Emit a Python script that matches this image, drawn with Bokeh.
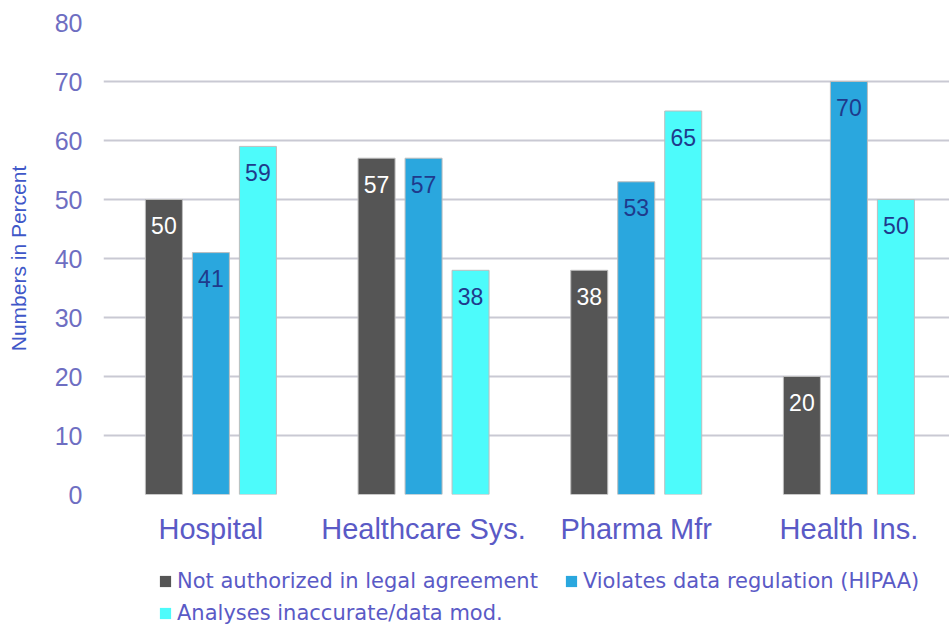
from bokeh.plotting import figure
from bokeh.layouts import column
from bokeh.models import ColumnDataSource, Range1d, Legend, LegendItem, FixedTicker
from bokeh.embed import file_html
from bokeh.resources import INLINE
from bokeh.core.properties import value

categories = ["Hospital", "Healthcare Sys.", "Pharma Mfr", "Health Ins."]
series_names = ["Not authorized in legal agreement", "Violates data regulation (HIPAA)", "Analyses inaccurate/data mod."]
not_authorized = [50, 57, 38, 20]
violates_hipaa = [41, 57, 53, 70]
inaccurate = [59, 38, 65, 50]
y_ticks = [0, 10, 20, 30, 40, 50, 60, 70, 80]

series = [not_authorized, violates_hipaa, inaccurate]
colors = ["#555555", "#2aa7de", "#4dfbfb"]
label_colors = ["#ffffff", "#1f3a8c", "#1f3a8c"]
offsets = [-0.221, 0.0, 0.221]
bar_w = 0.174

p = figure(width=949, height=550, output_backend="svg", toolbar_location=None,
           x_range=Range1d(-0.505, 3.473), y_range=Range1d(0, 80),
           min_border_left=103, min_border_right=0, min_border_top=22, min_border_bottom=56)
p.outline_line_color = None
p.background_fill_color = "white"
p.border_fill_color = "white"

# legend strip below the chart (its ranges keep the proxy bars far out of view)
lg = figure(width=949, height=80, output_backend="svg", toolbar_location=None,
            x_range=Range1d(100, 101), y_range=Range1d(1000, 1100),
            x_axis_type=None, y_axis_type=None,
            min_border_left=0, min_border_right=0, min_border_top=0, min_border_bottom=0)
lg.outline_line_color = None
lg.background_fill_color = "white"
lg.border_fill_color = "white"
lg.xgrid.grid_line_color = None
lg.ygrid.grid_line_color = None

xs = list(range(len(categories)))
proxies = []
for vals, col, lc, off in zip(series, colors, label_colors, offsets):
    src = ColumnDataSource(dict(x=[i + off for i in xs], top=vals, lab=[str(v) for v in vals]))
    p.vbar(x="x", top="top", bottom=0, width=bar_w, source=src,
           fill_color=col, line_color="#bdbdbd", line_width=1)
    p.text(x="x", y="top", text="lab", source=src, text_align="center", text_baseline="middle",
           y_offset=26, text_color=lc, text_font_size="23px", text_font=value("Liberation Sans"))
    proxies.append(lg.vbar(x="x", top="top", bottom=0, width=bar_w, source=src,
                           fill_color=col, line_color=None))

p.xgrid.grid_line_color = None
p.ygrid.grid_line_color = "#c9c9d3"
p.ygrid.grid_line_width = 2
p.ygrid.ticker = FixedTicker(ticks=y_ticks)

p.yaxis.ticker = FixedTicker(ticks=y_ticks)
p.yaxis.axis_line_color = None
p.yaxis.major_tick_line_color = None
p.yaxis.minor_tick_line_color = None
p.yaxis.major_label_text_font_size = "25px"
p.yaxis.major_label_text_color = "#6e6ec2"
p.yaxis.major_label_text_font = "Liberation Sans"
p.yaxis.major_label_standoff = 15
p.yaxis.axis_label = "Numbers in Percent"
p.yaxis.axis_label_text_font_size = "21px"
p.yaxis.axis_label_text_font_style = "normal"
p.yaxis.axis_label_text_color = "#3f57c8"
p.yaxis.axis_label_text_font = "Liberation Sans"
p.yaxis.axis_label_standoff = 22

p.xaxis.ticker = FixedTicker(ticks=xs)
p.xaxis.major_label_overrides = {i: c for i, c in enumerate(categories)}
p.xaxis.axis_line_color = None
p.xaxis.major_tick_line_color = None
p.xaxis.minor_tick_line_color = None
p.xaxis.major_label_text_font_size = "29px"
p.xaxis.major_label_text_color = "#5a5ac6"
p.xaxis.major_label_text_font = "Liberation Sans"
p.xaxis.major_label_standoff = 12

common = dict(label_text_font_size="21px", label_text_color="#5a5ac6", label_text_font="DejaVu Sans",
              glyph_width=14, glyph_height=14, label_standoff=5, padding=0, margin=0,
              border_line_color=None, background_fill_alpha=0)
leg1 = Legend(items=[LegendItem(label=series_names[0], renderers=[proxies[0]]),
                     LegendItem(label=series_names[1], renderers=[proxies[1]])],
              orientation="horizontal", location=(55, 37), spacing=26, **common)
leg2 = Legend(items=[LegendItem(label=series_names[2], renderers=[proxies[2]])],
              orientation="horizontal", location=(55, 5), spacing=26, **common)
lg.add_layout(leg1, "center")
lg.add_layout(leg2, "center")

layout = column(p, lg, spacing=0)
open("out.html", "w").write(file_html(layout, INLINE))
